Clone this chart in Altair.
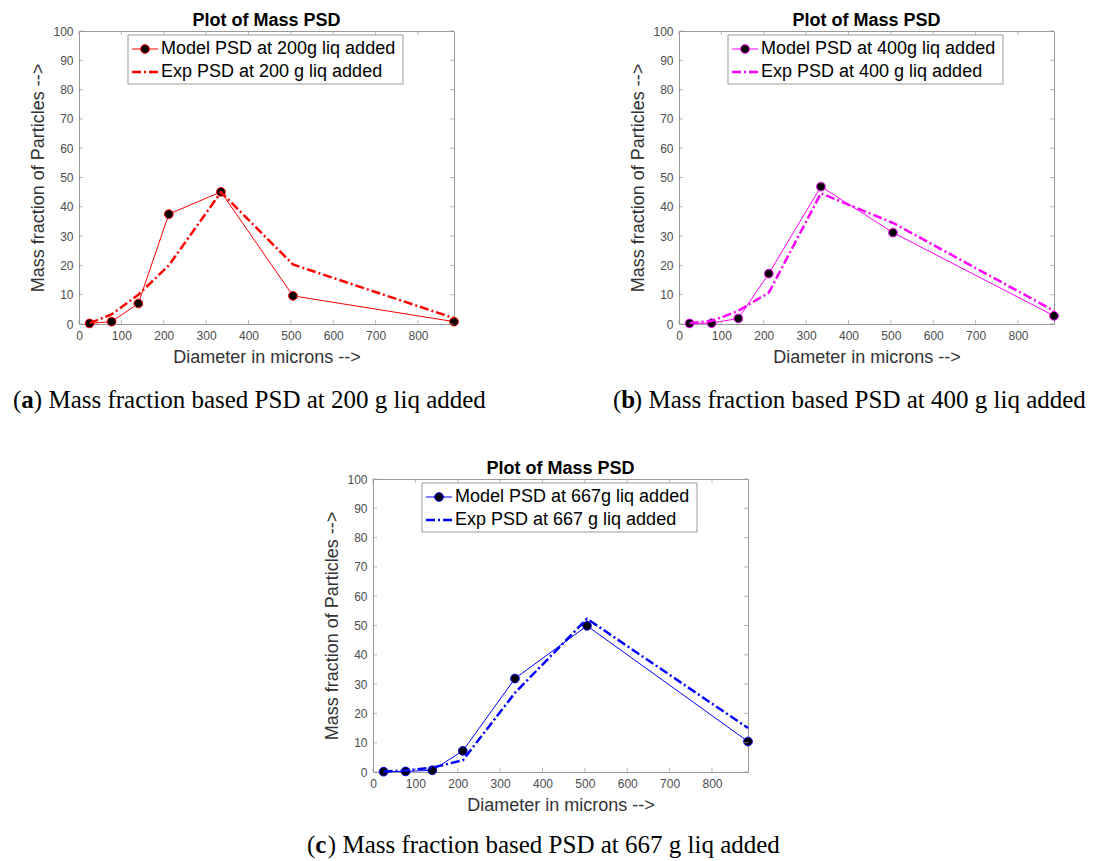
import altair as alt
import pandas as pd

# ---------------- data ----------------
diam = [25, 77, 140, 212, 335, 505, 885]

model_200 = [0.2, 0.8, 7.0, 37.5, 45.1, 9.6, 0.8]
exp_200 = [0.3, 3.3, 10.0, 20.0, 45.0, 20.3, 2.0]
model_400 = [0.2, 0.3, 1.9, 17.2, 46.9, 31.2, 2.8]
exp_400 = [0.3, 1.0, 4.5, 10.7, 44.6, 34.5, 4.5]
model_667 = [0.1, 0.2, 0.6, 7.2, 31.9, 49.9, 10.4]
exp_667 = [0.2, 0.5, 1.5, 4.0, 27.0, 52.3, 15.0]

x_ticks = [0, 100, 200, 300, 400, 500, 600, 700, 800]
y_ticks = [0, 10, 20, 30, 40, 50, 60, 70, 80, 90, 100]

panel_title = "Plot of Mass PSD"
x_title = "Diameter in microns -->"
y_title = "Mass fraction of Particles -->"

model_labels = ["Model PSD at 200g liq added", "Model PSD at 400g liq added", "Model PSD at 667g liq added"]
exp_labels = ["Exp PSD at 200 g liq added", "Exp PSD at 400 g liq added", "Exp PSD at 667 g liq added"]
cap_letters = ["a", "b", "c"]
cap_text = [") Mass fraction based PSD at 200 g liq added",
            ") Mass fraction based PSD at 400 g liq added",
            ") Mass fraction based PSD at 667 g liq added"]
colors = ["#ff0000", "#ff00ff", "#0000ff"]

W, H = 375, 293
BOX = "#999999"
SANS = "Liberation Sans"
SERIF = "Liberation Serif"
CAP_SIZE = 25


def panel(model, exp, color, mlab, elab, letter, rest, cap_y):
    df = pd.DataFrame({"d": diam, "model": model, "exp": exp})
    xs = alt.Scale(domain=[0, 885], nice=False, zero=False)
    ys = alt.Scale(domain=[0, 100], nice=False)
    xax = alt.Axis(values=x_ticks, title=x_title, labelFlush=False)
    yax = alt.Axis(values=y_ticks, title=y_title)
    base = alt.Chart(df)

    def X(f):
        return alt.X(f, scale=xs, axis=xax)

    def Y(f):
        return alt.Y(f, scale=ys, axis=yax)

    model_line = base.mark_line(color=color, strokeWidth=1).encode(x=X("d:Q"), y=Y("model:Q"))
    model_pts = base.mark_point(filled=True, fill="black", stroke=color, strokeWidth=1,
                                size=76, opacity=1).encode(x=X("d:Q"), y=Y("model:Q"))
    exp_line = base.mark_line(color=color, strokeWidth=2.5, strokeDash=[9, 3, 2, 3]).encode(
        x=X("d:Q"), y=Y("exp:Q"))

    xt = alt.Chart(pd.DataFrame({"t": x_ticks}))
    yt = alt.Chart(pd.DataFrame({"t": y_ticks}))
    tick_b = xt.mark_tick(orient="vertical", size=4, thickness=1, color=BOX, yOffset=-2).encode(
        x=X("t:Q"), y=alt.datum(0, axis=yax, scale=ys))
    tick_t = xt.mark_tick(orient="vertical", size=4, thickness=1, color=BOX, yOffset=2).encode(
        x=X("t:Q"), y=alt.datum(100, axis=yax, scale=ys))
    tick_l = yt.mark_tick(orient="horizontal", size=4, thickness=1, color=BOX, xOffset=2).encode(
        y=Y("t:Q"), x=alt.datum(0, axis=xax, scale=xs))
    tick_r = yt.mark_tick(orient="horizontal", size=4, thickness=1, color=BOX, xOffset=-2).encode(
        y=Y("t:Q"), x=alt.datum(885, axis=xax, scale=xs))

    one = alt.Chart(pd.DataFrame({"k": [0]}))
    leg_box = one.mark_rect(fill="white", stroke=BOX, strokeWidth=1).encode(
        x=alt.value(49), x2=alt.value(324), y=alt.value(4), y2=alt.value(53))
    leg_l1 = one.mark_rule(color=color, strokeWidth=1).encode(
        x=alt.value(53), x2=alt.value(79), y=alt.value(18))
    leg_p1 = one.mark_point(filled=True, fill="black", stroke=color, strokeWidth=1, size=76,
                            opacity=1).encode(x=alt.value(66), y=alt.value(18))
    leg_l2 = one.mark_rule(color=color, strokeWidth=2.5, strokeDash=[9, 3, 2, 3]).encode(
        x=alt.value(53), x2=alt.value(79), y=alt.value(41))
    leg_t1 = one.mark_text(align="left", baseline="middle", font=SANS, fontSize=18,
                           color="black").encode(x=alt.value(82), y=alt.value(18), text=alt.value(mlab))
    leg_t2 = one.mark_text(align="left", baseline="middle", font=SANS, fontSize=18,
                           color="black").encode(x=alt.value(82), y=alt.value(41), text=alt.value(elab))

    cx = -66
    cap1 = one.mark_text(align="left", baseline="middle", font=SERIF, fontSize=CAP_SIZE,
                         color="black").encode(x=alt.value(cx), y=alt.value(cap_y), text=alt.value("("))
    cap2 = one.mark_text(align="left", baseline="middle", font=SERIF, fontSize=CAP_SIZE,
                         fontWeight="bold", color="black").encode(
        x=alt.value(cx + 0.333 * CAP_SIZE), y=alt.value(cap_y), text=alt.value(letter))
    cap3 = one.mark_text(align="left", baseline="middle", font=SERIF, fontSize=CAP_SIZE,
                         color="black").encode(
        x=alt.value(cx + 0.833 * CAP_SIZE), y=alt.value(cap_y), text=alt.value(rest))

    return alt.layer(
        model_line, model_pts, exp_line,
        tick_b, tick_t, tick_l, tick_r,
        leg_box, leg_l1, leg_p1, leg_l2, leg_t1, leg_t2,
        cap1, cap2, cap3,
    ).properties(
        width=W, height=H,
        title=alt.Title(panel_title, font=SANS, fontSize=18, fontWeight="bold", color="black",
                        anchor="middle", offset=-5, frame="group"),
        view=alt.ViewBackground(stroke=BOX, strokeWidth=1),
    )


def spacer(w):
    return alt.Chart(pd.DataFrame({"k": [0]})).mark_point(opacity=0).encode(
        x=alt.value(0), y=alt.value(0)).properties(width=w, height=1)


pa = panel(model_200, exp_200, colors[0], model_labels[0], exp_labels[0], cap_letters[0], cap_text[0], 369)
pb = panel(model_400, exp_400, colors[1], model_labels[1], exp_labels[1], cap_letters[1], cap_text[1], 369)
pc = panel(model_667, exp_667, colors[2], model_labels[2], exp_labels[2], cap_letters[2], cap_text[2], 366)

chart = alt.concat(
    pa, spacer(387), pb,
    spacer(1), pc, spacer(1),
    columns=3,
    spacing=alt.RowColnumber(row=155, column=-81),
    bounds="flush", align="none",
).properties(
    padding={"left": 4, "top": 3, "right": 4, "bottom": 0},
).configure_view(strokeWidth=0).configure_axis(
    labelFont=SANS, labelFontSize=12, labelColor="#4d4d4d",
    titleFont=SANS, titleFontSize=18, titleFontWeight="normal", titleColor="#333333",
    ticks=False, domain=False, grid=False,
).configure_axisX(labelPadding=6, titlePadding=7).configure_axisY(labelPadding=6, titlePadding=5)

chart.save("out.html", embed_options={"renderer": "svg", "actions": False})
